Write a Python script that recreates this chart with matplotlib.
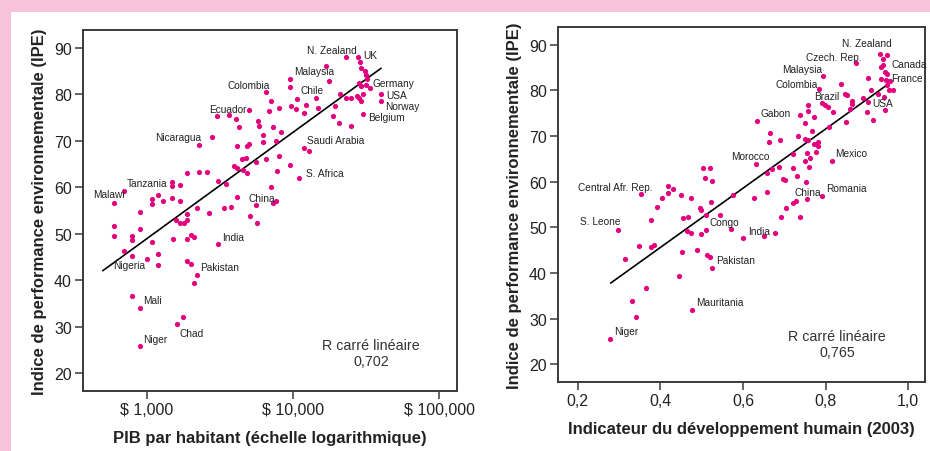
import matplotlib.pyplot as plt
import numpy as np
from matplotlib.patches import Rectangle
from matplotlib.ticker import FixedLocator, NullLocator

plt.rcParams['font.family'] = ['Liberation Sans', 'DejaVu Sans']

# PIB par habitant ($) et IPE, panneau de gauche
gdp = [23070, 27990, 28770, 29240, 31120, 31600, 31990, 28440, 29240, 31480,
       33650, 39900, 39900, 30340, 20990, 23070, 24950, 27290, 28440, 29240,
       30340, 19410, 18880, 20750, 24950, 16750, 17740, 9530, 9530, 10590,
       14390, 12270, 14890, 9680, 10490, 11890, 6530, 7060, 6890, 8050,
       5000, 3000, 3660, 4070, 4270, 5730, 5870, 6270, 6270, 7330,
       8240, 7620, 4150, 4820, 4980, 2280, 2770, 11890, 12940, 4500,
       4760, 5580, 6530, 8050, 3960, 4150, 4570, 4860, 7730, 9530,
       10990, 1890, 2280, 2590, 3080, 3460, 1490, 1490, 1690, 700,
       597, 1190, 1090, 1090, 1290, 1490, 1690, 895, 2190, 2670,
       3370, 3760, 1890, 4150, 7030, 7260, 7660, 5560, 5070, 5640,
       1580, 1680, 1800, 1890, 597, 597, 793, 793, 895, 1090,
       695, 793, 995, 1190, 1190, 1500, 1890, 1990, 2100, 3080,
       1890, 1990, 2190, 2100, 793, 895, 1770, 1600, 895]
epi_gdp = [88.0, 88.0, 87.0, 85.7, 85.1, 84.2, 83.3, 82.5, 81.9, 82.0,
           81.5, 80.2, 78.6, 75.9, 80.2, 79.2, 79.2, 79.7, 79.2, 78.6,
           80.2, 77.6, 75.3, 73.8, 73.3, 86.1, 83.0, 83.3, 81.7, 79.0,
           79.2, 77.7, 77.1, 77.6, 76.9, 76.1, 80.5, 78.5, 76.5, 77.1,
           76.7, 75.3, 75.6, 74.8, 73.0, 74.2, 73.3, 71.3, 69.7, 72.9,
           72.0, 70.0, 68.9, 68.9, 69.3, 69.2, 70.8, 68.4, 67.9, 66.1,
           66.4, 65.4, 66.2, 66.8, 64.6, 64.1, 63.8, 63.1, 63.6, 64.8,
           62.0, 63.0, 63.2, 63.4, 61.4, 60.8, 61.1, 60.2, 60.5, 59.1,
           56.6, 58.4, 57.5, 56.5, 57.0, 57.6, 57.1, 54.6, 55.5, 54.4,
           55.5, 55.8, 54.2, 58.0, 60.1, 56.7, 57.0, 56.2, 53.9, 52.3,
           52.9, 52.2, 52.2, 52.9, 51.7, 49.5, 49.5, 48.6, 51.0, 48.3,
           46.2, 45.2, 44.5, 45.7, 43.2, 48.9, 48.8, 49.7, 49.2, 47.7,
           44.1, 43.4, 41.1, 39.3, 36.6, 33.9, 32.0, 30.5, 25.7]

# IDH (2003) et IPE, panneau de droite
idh = [0.932, 0.950, 0.940, 0.874, 0.935, 0.939, 0.943, 0.948, 0.935, 0.946,
       0.948, 0.956, 0.954, 0.963, 0.904, 0.910, 0.890, 0.904, 0.901, 0.916,
       0.928, 0.942, 0.944, 0.795, 0.785, 0.838, 0.792, 0.799, 0.805, 0.818,
       0.758, 0.758, 0.738, 0.771, 0.751, 0.767, 0.734, 0.751, 0.757, 0.773,
       0.781, 0.783, 0.809, 0.849, 0.851, 0.864, 0.859, 0.847, 0.864, 0.635,
       0.666, 0.662, 0.690, 0.631, 0.722, 0.755, 0.763, 0.750, 0.761, 0.776,
       0.658, 0.671, 0.688, 0.722, 0.730, 0.696, 0.702, 0.752, 0.815, 0.792,
       0.755, 0.722, 0.729, 0.704, 0.692, 0.738, 0.658, 0.627, 0.577, 0.353,
       0.418, 0.418, 0.430, 0.403, 0.449, 0.474, 0.393, 0.377, 0.504, 0.520,
       0.507, 0.526, 0.523, 0.496, 0.498, 0.545, 0.511, 0.456, 0.468, 0.297,
       0.464, 0.474, 0.498, 0.511, 0.571, 0.601, 0.652, 0.678, 0.347, 0.378,
       0.384, 0.315, 0.452, 0.488, 0.512, 0.519, 0.526, 0.444, 0.366, 0.332,
       0.340, 0.476, 0.279]
epi_idh = [88.0, 87.8, 86.9, 86.0, 85.1, 85.6, 84.1, 83.6, 82.5, 82.2,
           81.2, 82.0, 80.0, 80.2, 82.8, 80.2, 78.4, 77.4, 75.2, 73.6,
           79.3, 78.5, 75.7, 83.1, 80.4, 81.4, 77.3, 76.8, 76.3, 75.2,
           76.7, 75.4, 74.6, 74.1, 72.8, 71.2, 70.0, 69.4, 69.2, 68.3,
           68.7, 67.8, 72.0, 73.0, 78.9, 77.7, 76.0, 79.3, 77.0, 73.2,
           70.7, 68.8, 69.2, 63.9, 66.1, 66.3, 65.2, 64.5, 63.3, 66.6,
           61.9, 62.8, 63.3, 63.0, 61.3, 60.6, 60.4, 60.0, 64.6, 56.8,
           56.2, 55.4, 55.7, 54.3, 52.2, 52.2, 57.8, 56.4, 57.0, 57.2,
           59.0, 57.5, 58.3, 56.4, 57.0, 56.4, 54.4, 51.6, 63.0, 63.0,
           60.8, 60.1, 55.5, 54.2, 53.8, 52.8, 52.7, 52.1, 52.2, 49.4,
           49.3, 48.8, 48.5, 49.4, 49.6, 47.6, 48.2, 48.7, 46.0, 45.6,
           46.1, 43.1, 44.5, 45.1, 44.0, 43.4, 41.0, 39.3, 36.8, 33.9,
           30.4, 31.9, 25.6]

fit_range_gdp = [500, 40000]
fit_range_idh = [0.28, 0.95]
r2_gdp = '0,702'
r2_idh = '0,765'

# noms des pays (position du texte)
names_gdp = ['N. Zealand', 'UK', 'Malaysia', 'Colombia', 'Chile', 'Germany', 'USA',
             'Norway', 'Belgium', 'Ecuador', 'Nicaragua', 'Saudi Arabia', 'S. Africa',
             'Tanzania', 'Malawi', 'China', 'Nigeria', 'India', 'Pakistan', 'Mali',
             'Chad', 'Niger']
names_gdp_x = [12470, 30130, 10160, 3590, 11350, 35320, 43350, 42870, 32660, 2660,
               1135, 12530, 12220, 733, 425, 4940, 588, 3270, 2306, 944, 1683, 944]
names_gdp_y = [89.6, 88.6, 85.1, 82.1, 80.9, 82.5, 79.9, 77.5, 75.1, 76.9,
               70.8, 70.2, 63.1, 61.0, 58.6, 57.7, 43.2, 49.3, 42.9, 35.7, 28.7, 27.4]

names_idh = ['N. Zealand', 'Czech. Rep.', 'Canada', 'France', 'Malaysia', 'Colombia',
             'Brazil', 'USA', 'Gabon', 'Morocco', 'Mexico', 'Central Afr. Rep.',
             'China', 'Romania', 'S. Leone', 'Congo', 'India', 'Pakistan',
             'Mauritania', 'Niger']
names_idh_x = [0.839, 0.752, 0.959, 0.960, 0.694, 0.680, 0.772, 0.913, 0.643, 0.571,
               0.823, 0.200, 0.726, 0.801, 0.206, 0.520, 0.612, 0.534, 0.486, 0.287]
names_idh_y = [90.4, 87.4, 85.7, 82.8, 84.6, 81.3, 78.75, 77.2, 75.1, 65.7,
               66.3, 58.8, 57.7, 58.6, 51.3, 51.1, 49.3, 42.85, 33.7, 27.35]

pink = '#f7c2da'
dot = '#e4007d'

fig = plt.figure(figsize=(9.3, 4.52), dpi=100)
fig.patch.set_facecolor(pink)
fig.patches.append(Rectangle((11 / 930, 0), 1, (452 - 13) / 452, transform=fig.transFigure,
                             facecolor='white', edgecolor='none', zorder=-10))

ax1 = fig.add_axes([83 / 930, 60 / 452, 374 / 930, 361 / 452])
ax2 = fig.add_axes([558 / 930, 69 / 452, 367 / 930, 355 / 452])


def style(ax):
    for s in ax.spines.values():
        s.set_color('#3a3a3a')
        s.set_linewidth(1.4)
    ax.tick_params(direction='out', length=6, width=1.1, color='#3a3a3a',
                   labelsize=11.5, labelcolor='#222222', pad=2)
    ax.set_ylim(16.1, 93.9)
    ax.set_yticks([20, 30, 40, 50, 60, 70, 80, 90])
    ax.set_ylabel('Indice de performance environnementale (IPE)', fontsize=12,
                  fontweight='bold', labelpad=5, color='#222222')


# gauche
ax1.scatter(gdp, epi_gdp, s=14, color=dot, linewidths=0, zorder=3)
k = np.polyfit(np.log10(gdp), epi_gdp, 1)
xl = np.array(fit_range_gdp)
ax1.plot(xl, np.polyval(k, np.log10(xl)), color='black', lw=1.2, zorder=2)
ax1.set_xscale('log')
ax1.set_xlim(365, 132800)
ax1.xaxis.set_major_locator(FixedLocator([1000, 10000, 100000]))
ax1.xaxis.set_minor_locator(NullLocator())
ax1.set_xticklabels(['$ 1,000', '$ 10,000', '$ 100,000'])
style(ax1)
ax1.set_xlabel('PIB par habitant (échelle logarithmique)', fontsize=12,
               fontweight='bold', labelpad=9, color='#222222')
for n, x, y in zip(names_gdp, names_gdp_x, names_gdp_y):
    ax1.text(x, y, n, fontsize=7.3, va='center', ha='left', color='#222222')
ax1.text(0.77, 0.106, 'R carré linéaire\n' + r2_gdp, transform=ax1.transAxes,
         fontsize=10.3, ha='center', va='center', color='#333333', linespacing=1.2)

# droite
ax2.scatter(idh, epi_idh, s=14, color=dot, linewidths=0, zorder=3)
k2 = np.polyfit(idh, epi_idh, 1)
xr = np.array(fit_range_idh)
ax2.plot(xr, np.polyval(k2, xr), color='black', lw=1.2, zorder=2)
ax2.set_xlim(0.152, 1.041)
ax2.set_xticks([0.2, 0.4, 0.6, 0.8, 1.0])
ax2.set_xticklabels(['0,2', '0,4', '0,6', '0,8', '1,0'])
style(ax2)
ax2.set_xlabel('Indicateur du développement humain (2003)', fontsize=12,
               fontweight='bold', labelpad=9, color='#222222')
for n, x, y in zip(names_idh, names_idh_x, names_idh_y):
    ax2.text(x, y, n, fontsize=7.3, va='center', ha='left', color='#222222')
ax2.text(0.76, 0.106, 'R carré linéaire\n' + r2_idh, transform=ax2.transAxes,
         fontsize=10.3, ha='center', va='center', color='#333333', linespacing=1.2)

fig.savefig('out.png', dpi=100, facecolor=pink)
